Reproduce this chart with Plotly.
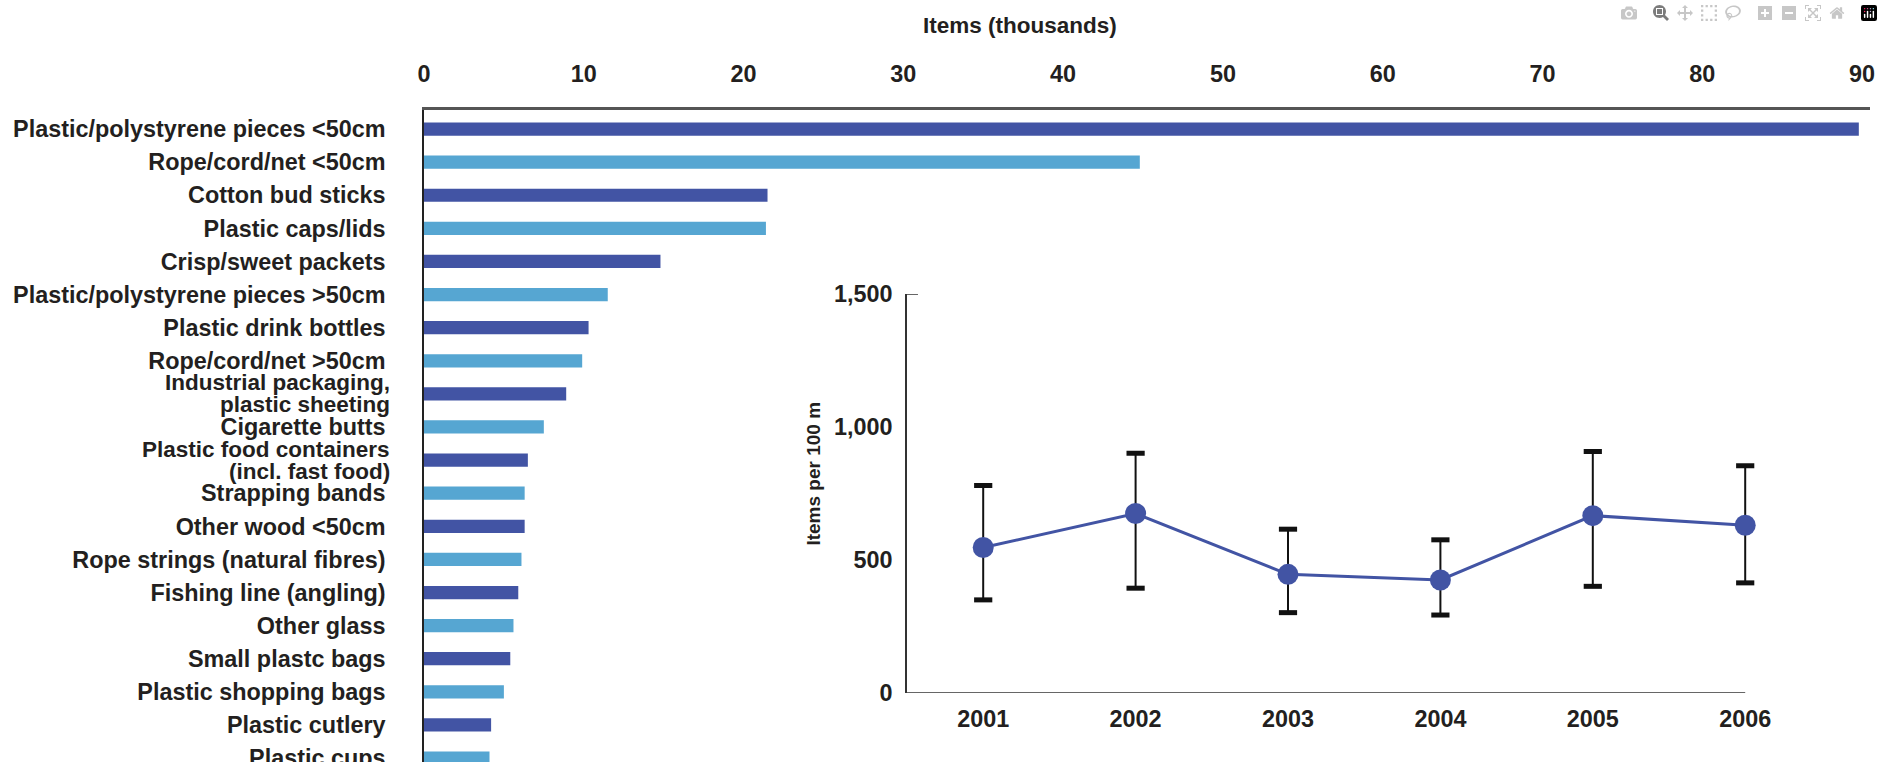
import plotly.graph_objects as go

# ---- data ----
categories = [
    "Plastic/polystyrene pieces <50cm",
    "Rope/cord/net <50cm",
    "Cotton bud sticks",
    "Plastic caps/lids",
    "Crisp/sweet packets",
    "Plastic/polystyrene pieces >50cm",
    "Plastic drink bottles",
    "Rope/cord/net >50cm",
    "Industrial packaging,<br>plastic sheeting",
    "Cigarette butts",
    "Plastic food containers<br>(incl. fast food)",
    "Strapping bands",
    "Other wood <50cm",
    "Rope strings (natural fibres)",
    "Fishing line (angling)",
    "Other glass",
    "Small plastc bags",
    "Plastic shopping bags",
    "Plastic cutlery",
    "Plastic cups",
]
items_thousands = [89.8, 44.8, 21.5, 21.4, 14.8, 11.5, 10.3, 9.9, 8.9, 7.5,
                   6.5, 6.3, 6.3, 6.1, 5.9, 5.6, 5.4, 5.0, 4.2, 4.1]
x_ticks = [0, 10, 20, 30, 40, 50, 60, 70, 80, 90]

years = ["2001", "2002", "2003", "2004", "2005", "2006"]
items_per_100m = [547, 675, 446, 425, 667, 631]
err_high = [780, 902, 616, 576, 908, 855]
err_low = [350, 394, 302, 293, 401, 414]
inset_ticks = [0, 500, 1000, 1500]

# ---- style ----
DARK = "#4254a4"
LIGHT = "#56a6d2"
TEXT = "#231f20"
FONT = "Liberation Sans"
FS = 23.4
bar_colors = [DARK if i % 2 == 0 else LIGHT for i in range(len(categories))]

W, H = 1883, 762
ML, MR, MT, MB = 424, 13, 108, 0
PW, PH = W - ML - MR, H - MT - MB
LABEL_GAP = 32
LINE_STEP = 22
H_FINAL = 778


def px_x(p):
    return (p - ML) / PW


def px_y(p):
    return (H - MB - p) / PH


tick_text = ["" if "<br>" in c else c for c in categories]

annotations = [
    dict(text="Items (thousands)", x=px_x(1020), y=px_y(24),
         xref="paper", yref="paper", showarrow=False,
         xanchor="center", yanchor="middle",
         font=dict(family=FONT, size=22.5, color=TEXT, weight="bold")),
    dict(text="Items per 100 m", x=px_x(814), y=px_y(471),
         xref="paper", yref="paper", showarrow=False, textangle=-90,
         xanchor="center", yanchor="middle",
         font=dict(family=FONT, size=19, color=TEXT, weight="bold")),
]
for c in categories:
    if "<br>" in c:
        parts = c.split("<br>")
        n = len(parts)
        for j, part in enumerate(parts):
            annotations.append(dict(
                text=part, xref="paper", x=0, yref="y", y=c,
                xanchor="right", yanchor="middle", showarrow=False,
                xshift=-LABEL_GAP, yshift=((n - 1) / 2 - j) * LINE_STEP,
                font=dict(family=FONT, size=22.5, color=TEXT, weight="bold"),
            ))

fig = go.Figure()

fig.add_trace(go.Bar(
    x=items_thousands, y=categories, orientation="h",
    marker=dict(color=bar_colors, line=dict(width=0)),
    width=0.4, xaxis="x", yaxis="y", showlegend=False,
))

eh = [h - v for h, v in zip(err_high, items_per_100m)]
el = [v - l for v, l in zip(items_per_100m, err_low)]

fig.add_trace(go.Scatter(
    x=years + years, y=err_high + err_low, mode="markers",
    marker=dict(symbol="line-ew", size=13, line=dict(width=5, color="#111111")),
    xaxis="x2", yaxis="y2", showlegend=False, hoverinfo="skip",
))

fig.add_trace(go.Scatter(
    x=years, y=items_per_100m, mode="lines+markers",
    line=dict(color=DARK, width=3),
    marker=dict(size=21, color=DARK),
    error_y=dict(type="data", symmetric=False, array=eh, arrayminus=el,
                 color="#111111", thickness=2, width=0),
    xaxis="x2", yaxis="y2", showlegend=False,
))

fig.update_layout(
    width=W - 16, height=H - 16,
    margin=dict(l=ML, r=MR, t=MT, b=MB, pad=0),
    paper_bgcolor="white", plot_bgcolor="rgba(0,0,0,0)",
    font=dict(family=FONT, size=FS, color=TEXT, weight="bold"),
    bargap=0.6,
    xaxis=dict(
        side="top", range=[0, 90.5], tickvals=x_ticks,
        showline=True, linecolor="#555555", linewidth=2.5,
        showgrid=False, zeroline=False, ticks="", ticklabelstandoff=16,
        domain=[0, 1], anchor="y",
    ),
    yaxis=dict(
        type="category", categoryorder="array", categoryarray=categories,
        tickvals=categories, ticktext=tick_text,
        range=[19.21, -0.575],
        showline=True, linecolor="#222222", linewidth=1.5,
        showgrid=False, zeroline=False, ticks="", ticklabelstandoff=LABEL_GAP,
        anchor="x",
    ),
    xaxis2=dict(
        type="category", categoryorder="array", categoryarray=years,
        range=[-0.5, 5.5],
        domain=[px_x(907), px_x(907 + 6 * 152.4)], anchor="y2",
        showline=False,
        showgrid=False, zeroline=False, ticks="", ticklabelstandoff=10,
    ),
    yaxis2=dict(
        range=[0, 1500], tickvals=inset_ticks, tickformat=",",
        domain=[px_y(690), px_y(292)], anchor="x2",
        showline=True, linecolor="#333333", linewidth=1.5,
        showgrid=False, zeroline=False, ticks="", ticklabelstandoff=8,
    ),
    annotations=annotations,
    shapes=[
        dict(type="line", xref="x2 domain", yref="y2",
             x0=0, x1=0.012, y0=inset_ticks[-1], y1=inset_ticks[-1],
             line=dict(color="#333333", width=1.5)),
        dict(type="line", xref="x2", yref="y2",
             x0=-0.5, x1=len(years) - 1, y0=inset_ticks[0], y1=inset_ticks[0],
             line=dict(color="#333333", width=1.5)),
    ],
)

post = (
    "var gd = document.getElementById('{plot_id}');"
    "document.documentElement.style.margin='0';"
    "document.body.style.margin='0';"
    "document.body.style.overflow='hidden';"
    f"var sy = {H_FINAL} / {H};"
    f"Plotly.relayout(gd, {{width: {W}, height: {H_FINAL},"
    f" 'margin.l': {ML}, 'margin.r': {MR},"
    f" 'margin.t': {MT} * sy, 'margin.b': {MB}}});"
)

fig.write_html("out.html", post_script=post)
